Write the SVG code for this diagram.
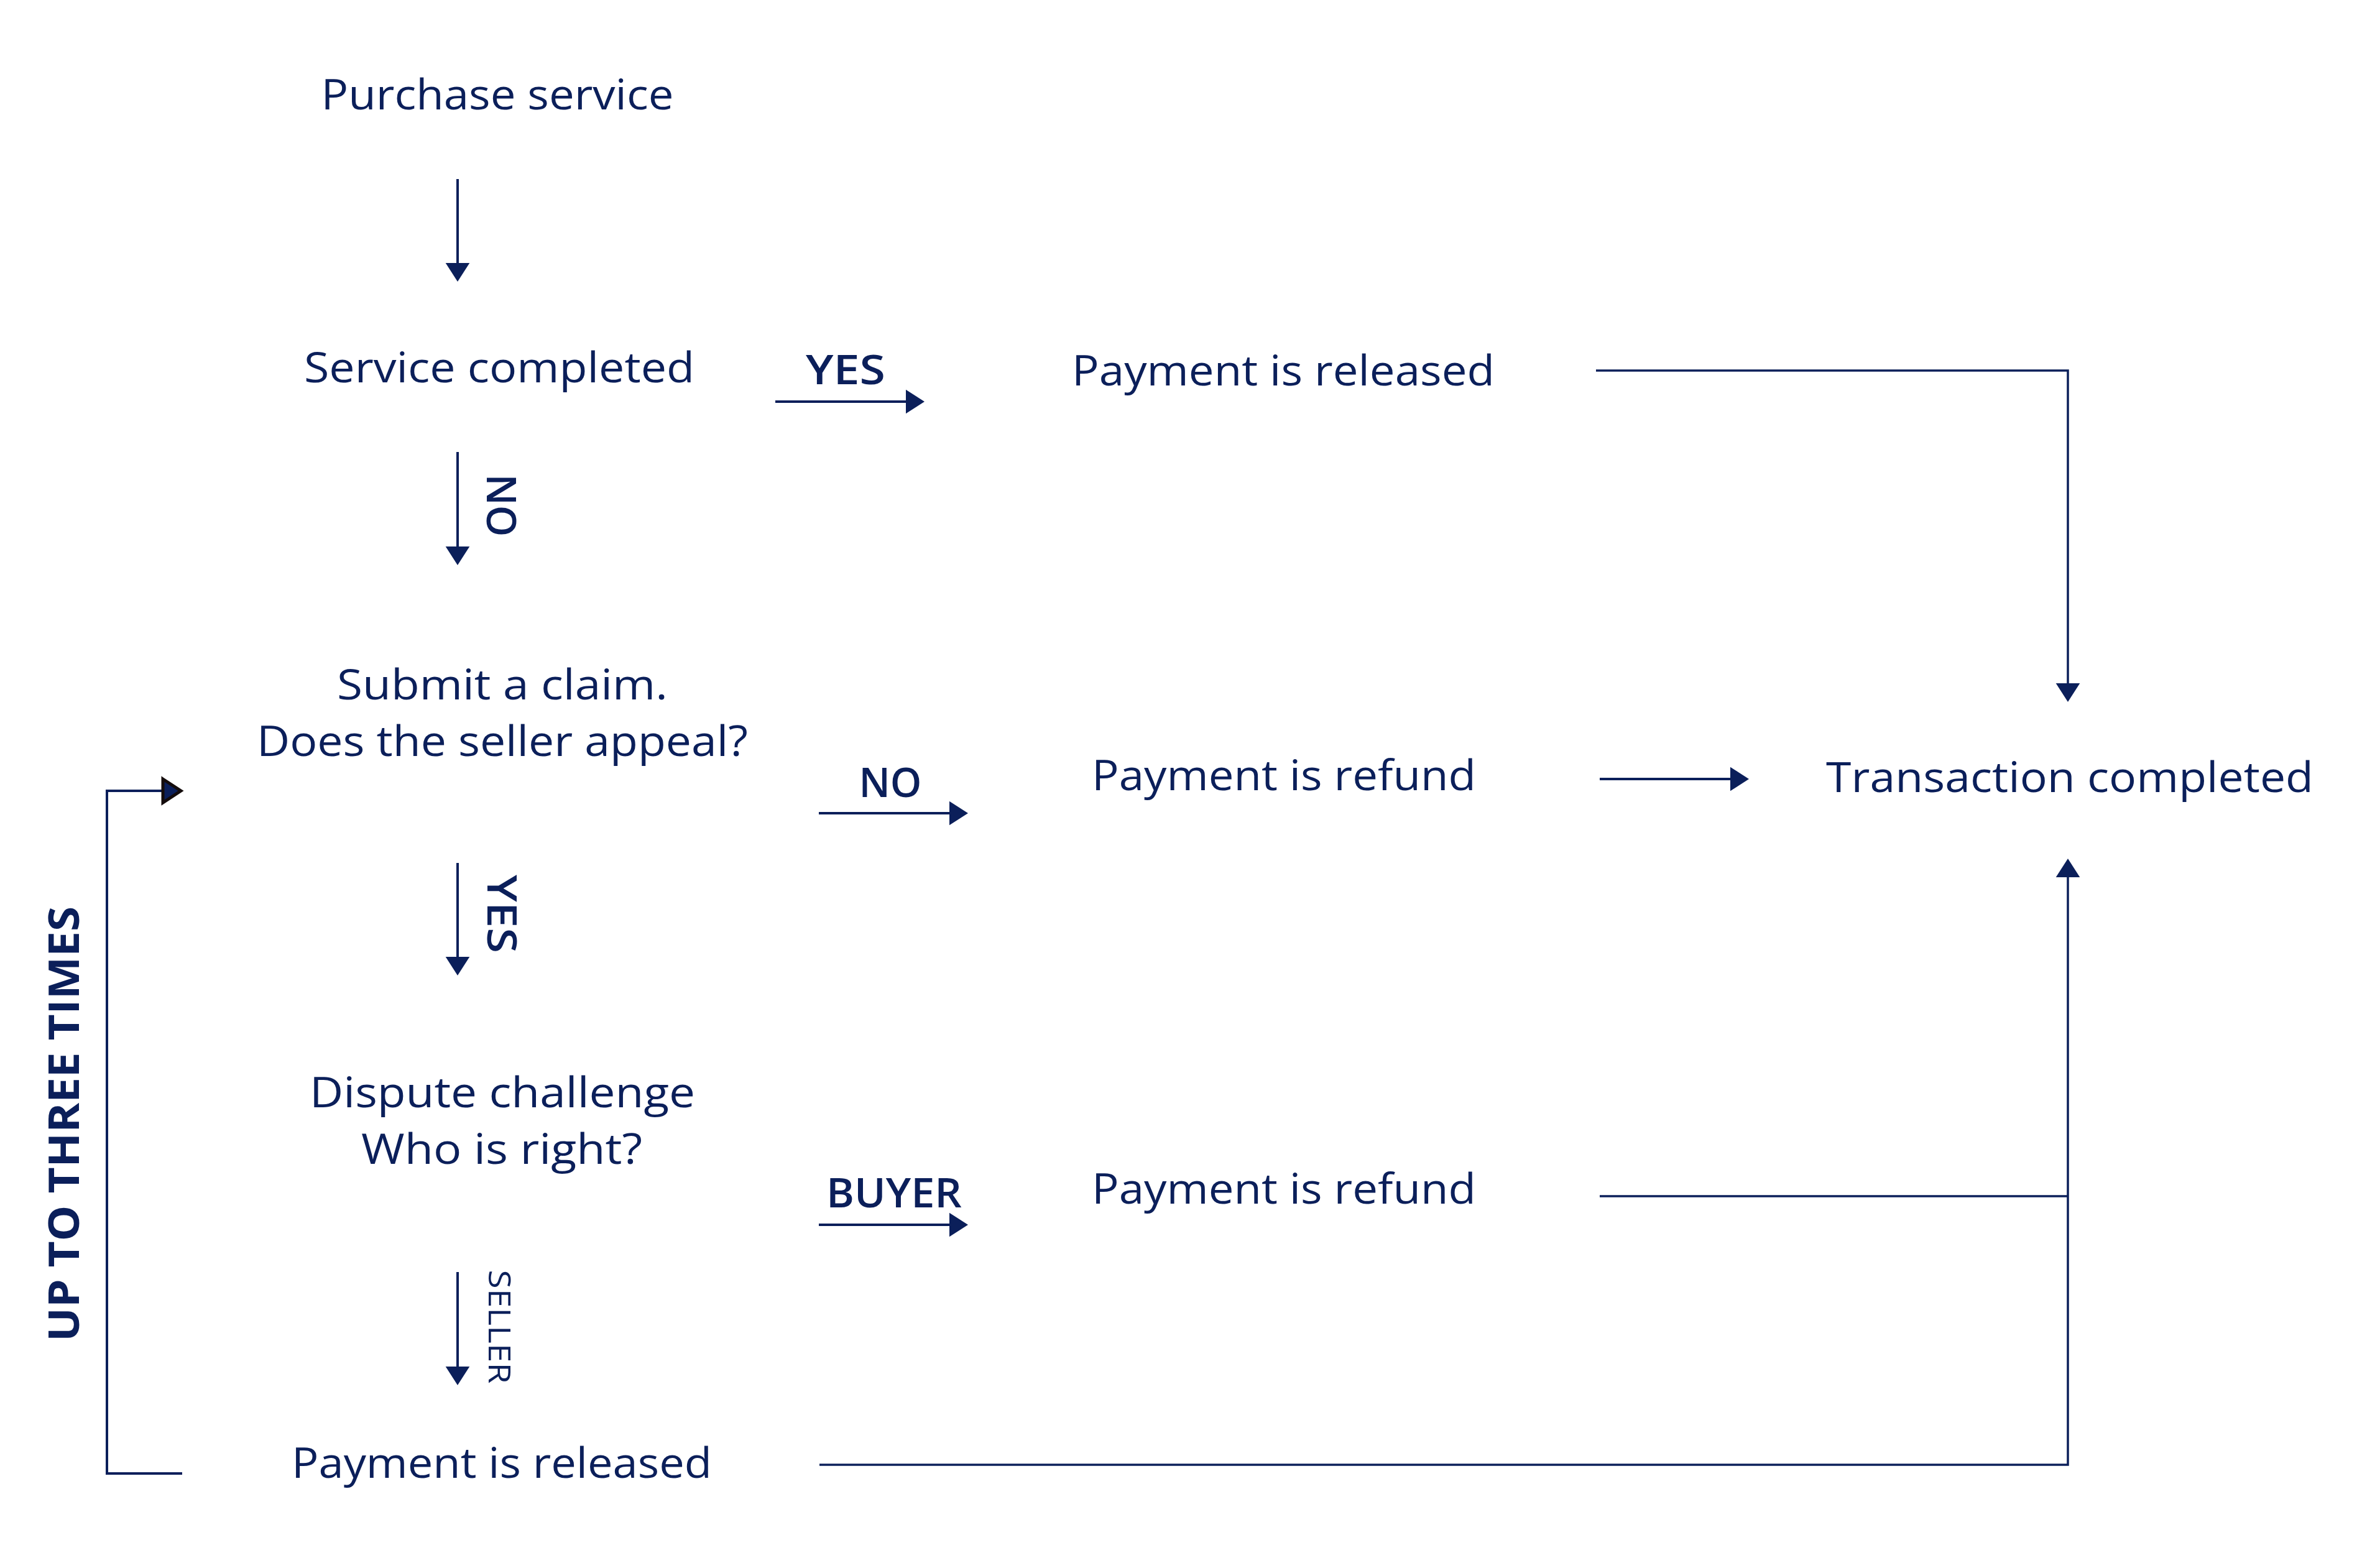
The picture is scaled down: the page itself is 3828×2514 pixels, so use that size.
<svg xmlns="http://www.w3.org/2000/svg" width="3828" height="2514" viewBox="0 0 3828 2514">
<style>
.t{font-family:"Open Sans","Noto Sans","Liberation Sans",sans-serif;font-size:67px;fill:#0b1f5a;text-anchor:middle}
.l{font-family:"Open Sans","Noto Sans","Liberation Sans",sans-serif;font-size:66px;font-weight:600;fill:#0b1f5a;text-anchor:middle}
.s{font-family:"Open Sans","Noto Sans","Liberation Sans",sans-serif;font-size:49px;fill:#0b1f5a;text-anchor:middle}
.u{font-family:"Open Sans","Noto Sans","Liberation Sans",sans-serif;font-size:68px;font-weight:700;fill:#0b1f5a;text-anchor:middle}
.c{fill:none;stroke:#0b1f5a;stroke-width:4}
.k{fill:none;stroke:#0b1f5a;stroke-width:3.5}
</style>
<defs>
<marker id="ah" markerUnits="userSpaceOnUse" markerWidth="30" markerHeight="40" viewBox="0 -18 28 36" refX="0" refY="0" orient="auto">
<path d="M0,-18 L28,0 L0,18 z" fill="#0b1f5a"/>
</marker>
</defs>
<rect width="3828" height="2514" fill="#ffffff"/>
<g id="n-purchase"><text class="t" x="800" y="176" textLength="567" lengthAdjust="spacingAndGlyphs">Purchase service</text></g>
<g id="n-service"><text class="t" x="803" y="615" textLength="628" lengthAdjust="spacingAndGlyphs">Service completed</text></g>
<g id="n-released-top"><text class="t" x="2064" y="620" textLength="680" lengthAdjust="spacingAndGlyphs">Payment is released</text></g>
<g id="n-claim"><text class="t" x="808" y="1125" textLength="532" lengthAdjust="spacingAndGlyphs">Submit a claim.</text><text class="t" x="808" y="1216" textLength="790" lengthAdjust="spacingAndGlyphs">Does the seller appeal?</text></g>
<g id="n-refund-mid"><text class="t" x="2065" y="1271" textLength="618" lengthAdjust="spacingAndGlyphs">Payment is refund</text></g>
<g id="n-transaction"><text class="t" x="3329" y="1274" textLength="784" lengthAdjust="spacingAndGlyphs">Transaction completed</text></g>
<g id="n-dispute"><text class="t" x="808" y="1781" textLength="620" lengthAdjust="spacingAndGlyphs">Dispute challenge</text><text class="t" x="807" y="1872" textLength="452" lengthAdjust="spacingAndGlyphs">Who is right?</text></g>
<g id="n-refund-low"><text class="t" x="2065" y="1936" textLength="618" lengthAdjust="spacingAndGlyphs">Payment is refund</text></g>
<g id="n-released-bottom"><text class="t" x="807" y="2377" textLength="676" lengthAdjust="spacingAndGlyphs">Payment is released</text></g>
<g id="connectors">
<line class="c" x1="736" y1="288" x2="736" y2="423" marker-end="url(#ah)"/>
<line class="c" x1="1247" y1="646" x2="1457" y2="646" marker-end="url(#ah)"/>
<line class="c" x1="736" y1="727" x2="736" y2="879" marker-end="url(#ah)"/>
<line class="c" x1="1317" y1="1308" x2="1527" y2="1308" marker-end="url(#ah)"/>
<line class="c" x1="736" y1="1388" x2="736" y2="1539" marker-end="url(#ah)"/>
<line class="c" x1="1317" y1="1970" x2="1527" y2="1970" marker-end="url(#ah)"/>
<line class="c" x1="736" y1="2046" x2="736" y2="2198" marker-end="url(#ah)"/>
<line class="c" x1="2573" y1="1253" x2="2783" y2="1253" marker-end="url(#ah)"/>
<path class="k" d="M2567,596 H3326 V1099" marker-end="url(#ah)"/>
<path class="k" d="M2573,1924 H3326"/>
<path class="k" d="M1318,2356 H3326 V1411" marker-end="url(#ah)"/>
<path class="c" d="M293,2370 H172 V1272 H262"/>
<path d="M262,1253 L291,1272 L262,1291 z" fill="#0b1f5a" stroke="#140c0c" stroke-width="5" stroke-linejoin="miter"/>
<text class="l" x="1360" y="618" textLength="128" lengthAdjust="spacingAndGlyphs">YES</text>
<text class="l" transform="translate(783,813) rotate(90)" textLength="101" lengthAdjust="spacingAndGlyphs">NO</text>
<text class="l" x="1432" y="1282" textLength="101" lengthAdjust="spacingAndGlyphs">NO</text>
<text class="l" transform="translate(784,1470) rotate(90)" textLength="126" lengthAdjust="spacingAndGlyphs">YES</text>
<text class="l" x="1438" y="1942" textLength="218" lengthAdjust="spacingAndGlyphs">BUYER</text>
<text class="s" transform="translate(786,2134) rotate(90)" textLength="183" lengthAdjust="spacingAndGlyphs">SELLER</text>
<text class="u" transform="translate(127,1808) rotate(-90)" textLength="700" lengthAdjust="spacingAndGlyphs">UP TO THREE TIMES</text>
</g>
</svg>
